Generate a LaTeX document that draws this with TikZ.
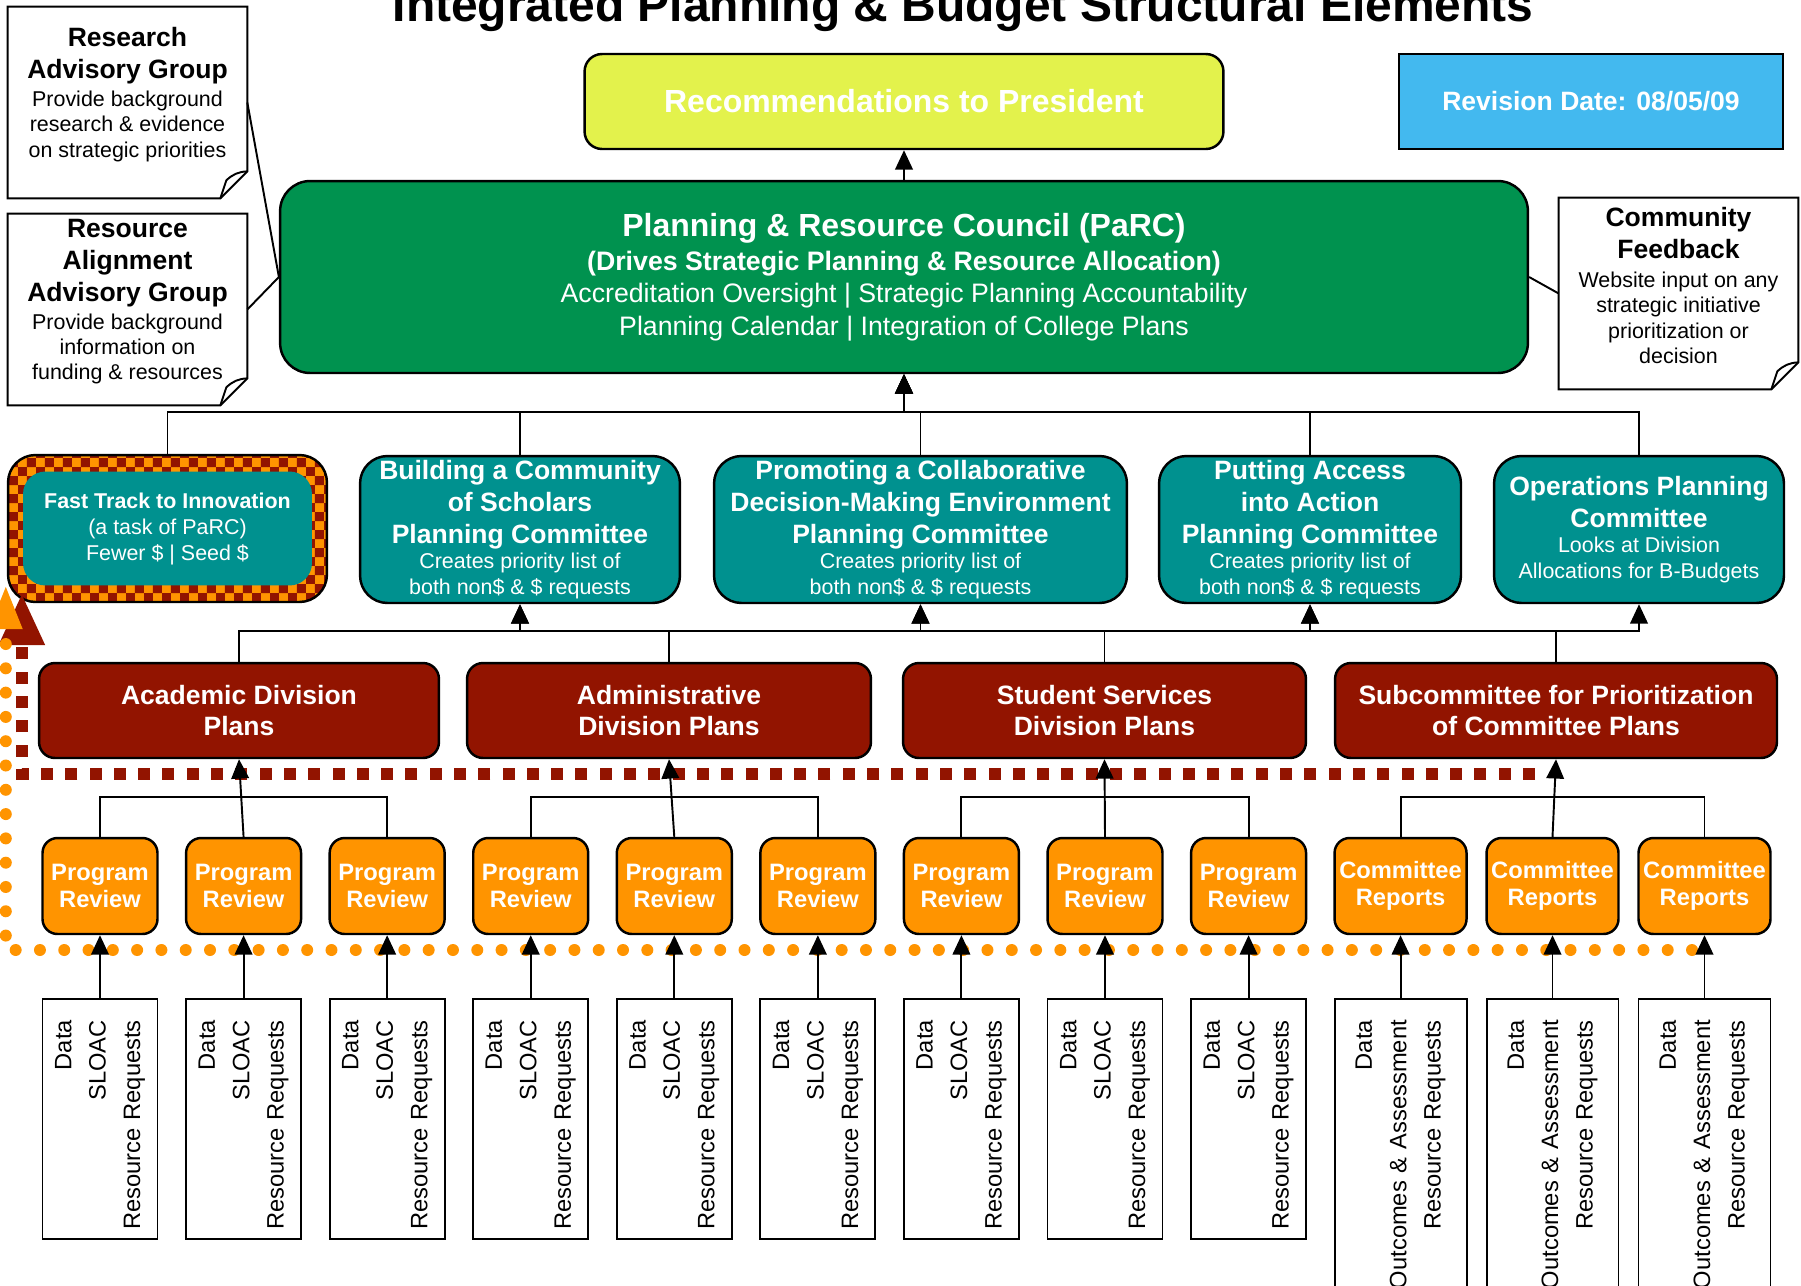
\documentclass[tikz,border=0pt]{standalone}
\usepackage{fontspec}
\setmainfont{Liberation Sans}
\usepackage{tikz}
\usetikzlibrary{shapes,arrows,arrows.meta,positioning,calc,patterns}
\usepackage{xcolor}

\definecolor{parcgreen}{HTML}{00924F}
\definecolor{recyellow}{HTML}{E3F24C}
\definecolor{revblue}{HTML}{43B9EF}
\definecolor{comteal}{HTML}{00918F}
\definecolor{divred}{HTML}{921400}
\definecolor{prorange}{HTML}{FF9400}

\newcommand{\headfont}{\bfseries\fontsize{15.1}{18.2}\selectfont}

% checker border of the fast track box
\pgfdeclarepatternformonly{bigchecker}{\pgfpointorigin}{\pgfqpoint{10.24pt}{10.24pt}}{\pgfqpoint{10.24pt}{10.24pt}}{%
  \pgfpathrectangle{\pgfpointorigin}{\pgfqpoint{5.12pt}{5.12pt}}%
  \pgfpathrectangle{\pgfqpoint{5.12pt}{5.12pt}}{\pgfqpoint{5.12pt}{5.12pt}}%
  \pgfusepath{fill}}

% note outline with a turned-up corner
\newcommand{\foldnote}[1]{%
  \draw[line width=1.1pt] (#1.north west) -- (#1.north east) -- ($(#1.south east)+(0,-11)$)
    -- ($(#1.south east)+(-27,16)$) -- ($(#1.south west)+(0,16)$) -- cycle;
  \draw[line width=1.1pt] ($(#1.south east)+(-27,16)$) -- ($(#1.south east)+(-21,-2)$)
    to[bend left=20] ($(#1.south east)+(0,-11)$);}

\tikzset{
    recbox/.style={rectangle, draw, fill=recyellow, text=white, rounded corners=0.35cm, minimum width=12.78cm, minimum height=1.9cm, line width=1.4pt, font=\bfseries\fontsize{18.2}{21}\selectfont},
    datebox/.style={rectangle, draw, fill=revblue, text=white, minimum width=7.68cm, minimum height=1.9cm, line width=1.4pt, font=\bfseries\fontsize{15.1}{18}\selectfont},
    parcbox/.style={rectangle, draw, fill=parcgreen, text=white, align=center, rounded corners=0.6cm, minimum width=24.96cm, minimum height=3.84cm, line width=1.4pt, font=\fontsize{15.2}{18.5}\selectfont},
    notebox/.style={rectangle, align=center, minimum width=4.78cm, minimum height=3.5cm, inner sep=2pt, font=\fontsize{12.2}{14.4}\selectfont},
    planbox/.style={rectangle, draw, fill=comteal, text=white, align=center, rounded corners=0.55cm, minimum height=2.94cm, inner sep=2pt, line width=1.4pt, font=\fontsize{12.2}{14.4}\selectfont},
    fastbox/.style={rectangle, draw, rounded corners=0.55cm, preaction={fill=prorange}, pattern=bigchecker, pattern color=divred, minimum width=6.38cm, minimum height=2.94cm, line width=1.4pt},
    fastin/.style={rectangle, fill=comteal, text=white, align=center, rounded corners=0.45cm, minimum width=5.78cm, minimum height=2.28cm, font=\fontsize{12.2}{14.8}\selectfont},
    divbox/.style={rectangle, draw, fill=divred, text=white, align=center, rounded corners=0.32cm, minimum height=1.9cm, line width=1.4pt, font=\bfseries\fontsize{15.1}{18.2}\selectfont},
    progbox/.style={rectangle, draw, fill=prorange, text=white, align=center, rounded corners=0.3cm, minimum width=2.3cm, minimum height=1.92cm, inner sep=2pt, line width=1.4pt, font=\bfseries\fontsize{13.5}{15.7}\selectfont},
    repbox/.style={progbox, minimum width=2.64cm},
    databox/.style={rectangle, draw, rotate=90, align=right, text width=4.56cm, inner xsep=0.12cm, inner ysep=0pt, minimum height=2.3cm, line width=1.1pt, execute at begin node={\rightskip=0.3cm\relax}, font=\fontsize{13.5}{19.6}\selectfont},
    repdata/.style={databox, text width=5.8cm, minimum height=2.64cm},
    line/.style={draw, -{Triangle[width=10pt,length=11pt]}, line width=1.1pt},
    reddash/.style={draw=divred, line width=0.24cm, dash pattern=on 0.24cm off 0.246cm, -{Triangle[width=0.86cm,length=1.04cm]}},
    orangedots/.style={draw=prorange, line width=0.24cm, line cap=round, dash pattern=on 0pt off 0.486cm, -{Triangle[width=0.6cm,length=0.9cm]}}
}

\begin{document}
\begin{tikzpicture}[x=0.02cm, y=-0.02cm, node distance=2.872cm]
    \useasboundingbox (0,0) rectangle (1801,1285);
    \clip (0,0) rectangle (1801,1285);

    \node [anchor=base, font=\bfseries\fontsize{27.3}{32}\selectfont] (title) at (963,21) {Integrated Planning \& Budget Structural Elements};

    \node [recbox] (rec) at (904,101.5) {Recommendations to President};
    \node [datebox] (date) at (1591,101.5) {Revision Date: 08/05/09};
    \node [parcbox] (parc) at (904,277) {{\fontsize{18.2}{21}\selectfont\bfseries Planning \& Resource Council (PaRC)}\\[0.6pt]{\bfseries (Drives Strategic Planning \& Resource Allocation)}\\Accreditation Oversight | Strategic Planning Accountability\\Planning Calendar | Integration of College Plans};

    % advisory groups and feedback
    \node [notebox] (rag) at (127.5,94.5) {{\headfont Research}\\[3.8pt]{\headfont Advisory Group}\\[1.5pt]Provide background\\research \& evidence\\on strategic priorities};
    \node [notebox] (ral) at (127.5,301.5) {{\headfont Resource}\\[3.8pt]{\headfont Alignment}\\[3.8pt]{\headfont Advisory Group}\\[1.5pt]Provide background\\information on\\funding \& resources};
    \node [notebox] (cfb) at (1678.5,285.5) {{\headfont Community}\\[3.8pt]{\headfont Feedback}\\[2pt]Website input on any\\strategic initiative\\prioritization or\\decision};
    \foldnote{rag}
    \foldnote{ral}
    \foldnote{cfb}

    % planning committees
    \node [fastbox] (fast) at (167.5,528.5) {};
    \node [fastin] (fastin) at (fast.center) {{\bfseries Fast Track to Innovation}\\(a task of PaRC)\\Fewer \$ | Seed \$};
    \node [planbox, minimum width=6.4cm] (build) at (520,529.5) {{\headfont Building a Community}\\[3.8pt]{\headfont of Scholars}\\[3.8pt]{\headfont Planning Committee}\\Creates priority list of\\both non\$ \& \$ requests};
    \node [planbox, minimum width=8.26cm] (promo) at (920.5,529.5) {{\headfont Promoting a Collaborative}\\[3.8pt]{\headfont Decision-Making Environment}\\[3.8pt]{\headfont Planning Committee}\\Creates priority list of\\both non\$ \& \$ requests};
    \node [planbox, minimum width=6.04cm] (access) at (1310,529.5) {{\headfont Putting Access}\\[3.8pt]{\headfont into Action}\\[3.8pt]{\headfont Planning Committee}\\Creates priority list of\\both non\$ \& \$ requests};
    \node [planbox, minimum width=5.8cm] (ops) at (1639,529.5) {{\headfont Operations Planning}\\[3.8pt]{\headfont Committee}\\Looks at Division\\Allocations for B-Budgets};

    % division plans
    \node [divbox, minimum width=8cm] (acad) at (239,710.5) {Academic Division\\Plans};
    \node [divbox, minimum width=8.08cm] (admin) at (669,710.5) {Administrative\\Division Plans};
    \node [divbox, minimum width=8.06cm] (student) at (1104.5,710.5) {Student Services\\Division Plans};
    \node [divbox, minimum width=8.84cm] (sub) at (1556,710.5) {Subcommittee for Prioritization\\of Committee Plans};

    % program reviews and committee reports
    \node [progbox] (p1) at (100,886) {Program\\Review};
    \node [progbox, right of=p1] (p2) {Program\\Review};
    \node [progbox, right of=p2] (p3) {Program\\Review};
    \node [progbox, right of=p3] (p4) {Program\\Review};
    \node [progbox, right of=p4] (p5) {Program\\Review};
    \node [progbox, right of=p5] (p6) {Program\\Review};
    \node [progbox, right of=p6] (p7) {Program\\Review};
    \node [progbox, right of=p7] (p8) {Program\\Review};
    \node [progbox, right of=p8] (p9) {Program\\Review};
    \node [repbox, right of=p9, node distance=3.04cm] (c1) {Committee\\Reports};
    \node [repbox, right of=c1, node distance=3.04cm] (c2) {Committee\\Reports};
    \node [repbox, right of=c2, node distance=3.04cm] (c3) {Committee\\Reports};

    % inputs
    \node [databox, below=1.26cm of p1, anchor=east] (d1) {Data\\SLOAC\\Resource Requests};
    \node [databox, below=1.26cm of p2, anchor=east] (d2) {Data\\SLOAC\\Resource Requests};
    \node [databox, below=1.26cm of p3, anchor=east] (d3) {Data\\SLOAC\\Resource Requests};
    \node [databox, below=1.26cm of p4, anchor=east] (d4) {Data\\SLOAC\\Resource Requests};
    \node [databox, below=1.26cm of p5, anchor=east] (d5) {Data\\SLOAC\\Resource Requests};
    \node [databox, below=1.26cm of p6, anchor=east] (d6) {Data\\SLOAC\\Resource Requests};
    \node [databox, below=1.26cm of p7, anchor=east] (d7) {Data\\SLOAC\\Resource Requests};
    \node [databox, below=1.26cm of p8, anchor=east] (d8) {Data\\SLOAC\\Resource Requests};
    \node [databox, below=1.26cm of p9, anchor=east] (d9) {Data\\SLOAC\\Resource Requests};
    \node [repdata, below=1.26cm of c1, anchor=east] (e1) {Data\\Outcomes \& Assessment\\Resource Requests};
    \node [repdata, below=1.26cm of c2, anchor=east] (e2) {Data\\Outcomes \& Assessment\\Resource Requests};
    \node [repdata, below=1.26cm of c3, anchor=east] (e3) {Data\\Outcomes \& Assessment\\Resource Requests};

    % fast track feedback loops
    \coordinate (redend) at (1535,774);
    \coordinate (orgend) at (1692,950);
    \path [reddash] (redend) -| ($(fast.south west)+(15,-10)$);
    \path [orangedots] (orgend) -| ($(fast.south west)+(-1,-19)$);

    \draw [line width=1.1pt] ($(rag.east)+(0,8)$) -- (parc.west);
    \draw [line width=1.1pt] ($(ral.east)+(0,8)$) -- (parc.west);
    \draw [line width=1.1pt] (parc.east) -- ($(cfb.west)+(0,8)$);

    \path [line] (parc.north) -- (rec.south);
    \path [line] (fast.north) -- ++(0,-42) -| (parc.south);
    \path [line] (build.north) -- ++(0,-43) -| (parc.south);
    \path [line] (promo.north) -- ++(0,-43) -| (parc.south);
    \path [line] (access.north) -- ++(0,-43) -| (parc.south);
    \path [line] (ops.north) -- ++(0,-43) -| (parc.south);

    \path [line] (acad.north) -- ++(0,-31) -| (build.south);
    \path [line] (admin.north) -- ++(0,-31) -| (build.south);
    \path [line] (admin.north) -- ++(0,-31) -| (promo.south);
    \path [line] (student.north) -- ++(0,-31) -| (promo.south);
    \path [line] (student.north) -- ++(0,-31) -| (access.south);
    \path [line] (sub.north) -- ++(0,-31) -| (access.south);
    \path [line] (sub.north) -- ++(0,-31) -| (ops.south);

    \draw [line width=1.1pt] (p1.north) -- ++(0,-40) -| (p3.north);
    \draw [line width=1.1pt] (p4.north) -- ++(0,-40) -| (p6.north);
    \draw [line width=1.1pt] (p7.north) -- ++(0,-40) -| (p9.north);
    \draw [line width=1.1pt] (c1.north) -- ++(0,-40) -| (c3.north);
    \path [line] (p2.north) -- (acad.south);
    \path [line] (p5.north) -- (admin.south);
    \path [line] (p8.north) -- (student.south);
    \path [line] (c2.north) -- (sub.south);

    \path [line] (d1.east) -- (p1.south);
    \path [line] (d2.east) -- (p2.south);
    \path [line] (d3.east) -- (p3.south);
    \path [line] (d4.east) -- (p4.south);
    \path [line] (d5.east) -- (p5.south);
    \path [line] (d6.east) -- (p6.south);
    \path [line] (d7.east) -- (p7.south);
    \path [line] (d8.east) -- (p8.south);
    \path [line] (d9.east) -- (p9.south);
    \path [line] (e1.east) -- (c1.south);
    \path [line] (e2.east) -- (c2.south);
    \path [line] (e3.east) -- (c3.south);
\end{tikzpicture}
\end{document}
